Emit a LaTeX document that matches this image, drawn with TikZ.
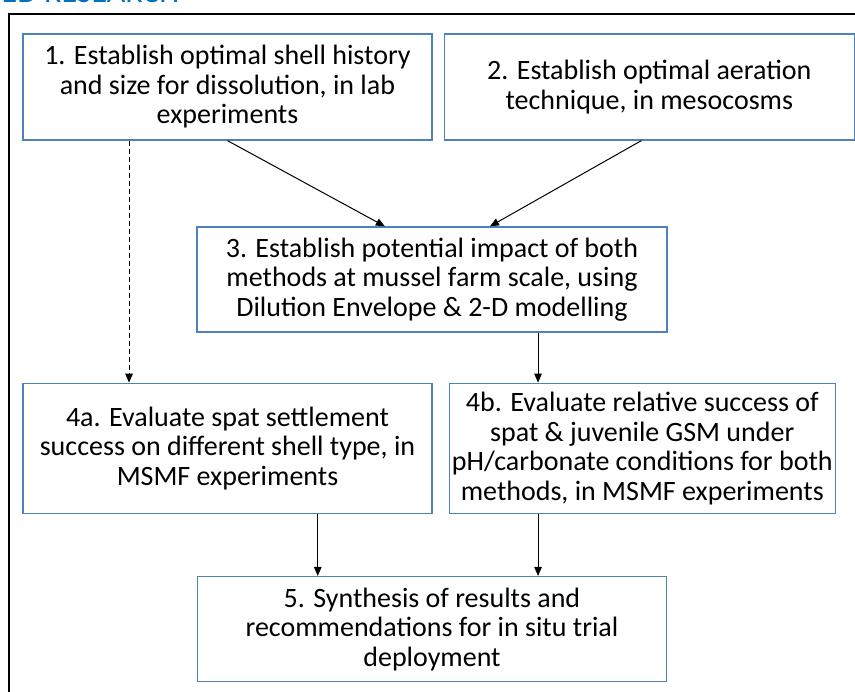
\documentclass[tikz,border=0pt]{standalone}
\usepackage{fontspec}
\setmainfont{Carlito}
\usepackage{tikz}
\usetikzlibrary{positioning, calc, arrows.meta}
\usepackage{xcolor}
\definecolor{box_blue}{RGB}{79,129,189}
\definecolor{title_blue}{RGB}{0,112,192}

\begin{document}
\begin{tikzpicture}[x=1pt, y=-1pt,
    step_box/.style={rectangle, draw=box_blue, line width=1.3pt, align=center, inner sep=0pt,
    font=\fontsize{28}{29.5}\selectfont},
    arrow_pointer/.style={line width=1pt, -{Triangle[length=9pt,width=7.5pt]}}]

    \clip (0,0) rectangle (855,692);

    % Heading and frame
    \node[anchor=base east, text=title_blue, font=\fontsize{32}{38}\selectfont] (heading) at (183,2.5) {ED RESEARCH};
    \draw[line width=2pt] (8.5,700) -- (8.5,14) -- (870,14);

    % Top row
    \node[step_box, minimum width=409pt, minimum height=106pt] (step1) at (227.5,87)
        {1. Establish optimal shell history\\and size for dissolution, in lab\\experiments};
    \node[step_box, minimum width=410pt, minimum height=106pt, right=11pt of step1] (step2)
        {2. Establish optimal aeration\\technique, in mesocosms};

    % Middle
    \node[step_box, minimum width=470pt, minimum height=105pt] (step3) at (432,279.5)
        {3. Establish potential impact of both\\methods at mussel farm scale, using\\Dilution Envelope \& 2-D modelling};
    \draw [arrow_pointer] (step1.south) -- ($(step3.north west)!0.4!(step3.north east)$);
    \draw [arrow_pointer] ([xshift=-8pt]step2.south) -- ($(step3.north west)!0.623!(step3.north east)$);

    % Row 4
    \node[step_box, minimum width=409pt, minimum height=130pt, below=242pt of step1] (step4a)
        {4a. Evaluate spat settlement\\success on different shell type, in\\MSMF experiments};
    \node[step_box, minimum width=386pt, minimum height=130pt, right=16pt of step4a] (step4b)
        {4b. Evaluate relative success of\\spat \& juvenile GSM under\\pH/carbonate conditions for both\\methods, in MSMF experiments};
    \coordinate (drop1) at ($(step1.south west)!0.26!(step1.south east)$);
    \draw [arrow_pointer, dashed, dash pattern=on 5pt off 3pt] (drop1) -- (drop1 |- step4a.north);
    \coordinate (drop3) at ($(step3.south west)!0.725!(step3.south east)$);
    \draw [arrow_pointer] (drop3) -- (drop3 |- step4b.north);

    % Synthesis
    \coordinate (mid5) at (step3 |- step4a.south);
    \node[step_box, minimum width=469pt, minimum height=105pt, below=62pt of mid5] (step5)
        {5. Synthesis of results and\\recommendations for in situ trial\\deployment};
    \coordinate (drop4a) at ($(step4a.south west)!0.72!(step4a.south east)$);
    \draw [arrow_pointer] (drop4a) -- (drop4a |- step5.north);
    \draw [arrow_pointer] (drop3 |- step4b.south) -- (drop3 |- step5.north);

\end{tikzpicture}
\end{document}
